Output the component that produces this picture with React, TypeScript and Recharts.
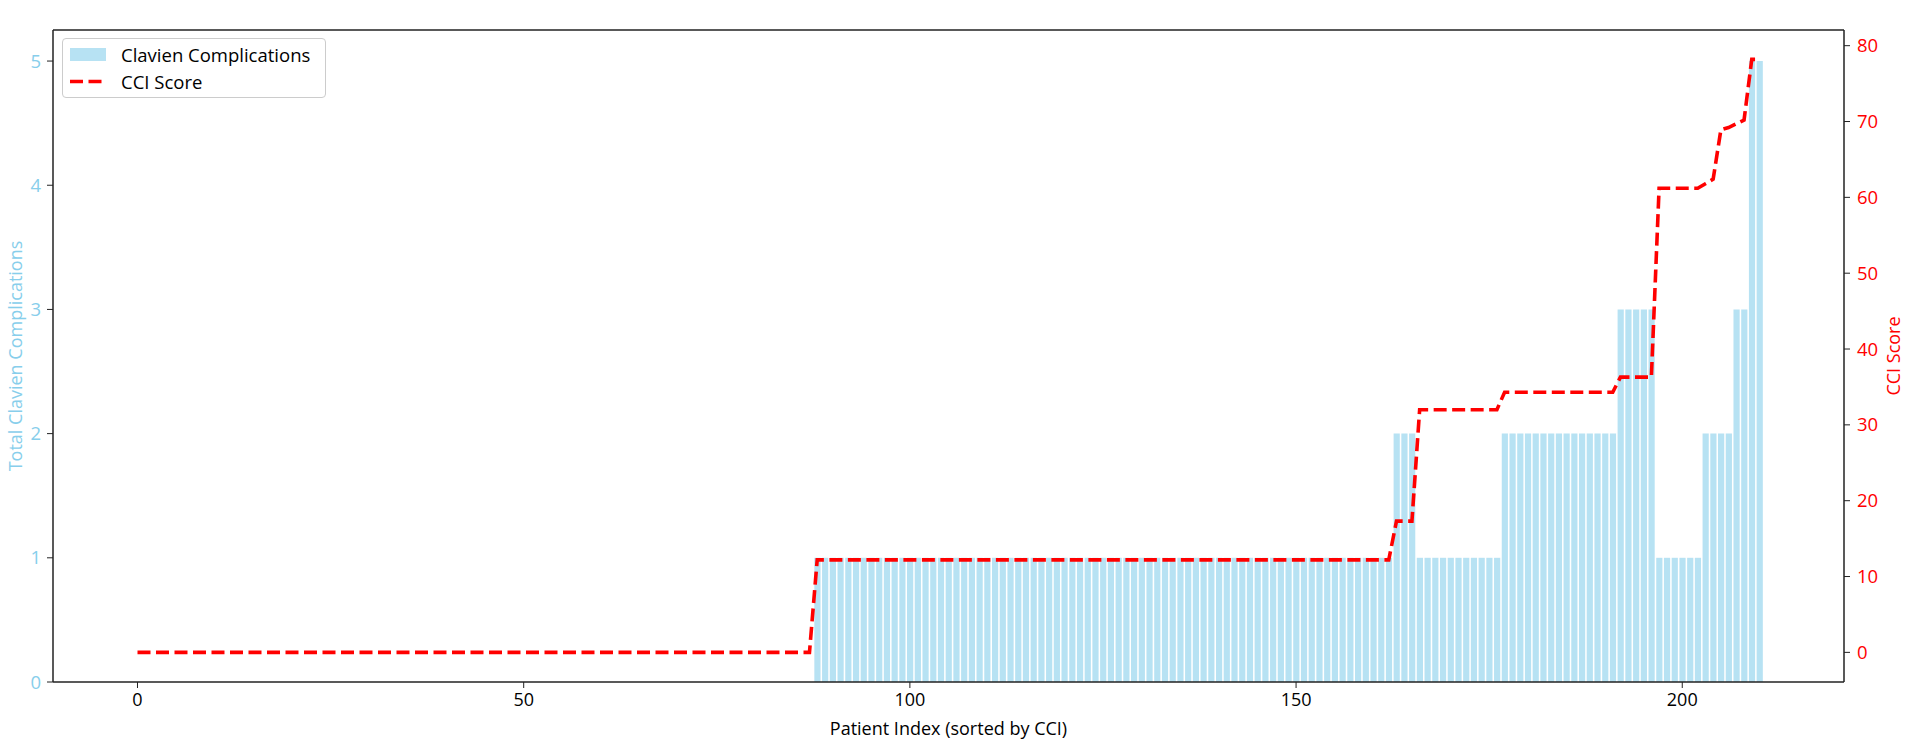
import React from "react";
import { ComposedChart, Bar, Line, XAxis, YAxis, Legend, ReferenceLine } from "recharts";

// total Clavien complications per patient, sorted by CCI (index 0..210)
const clavien = [
  // 0-87
  0, 0, 0, 0, 0, 0, 0, 0, 0, 0, 0, 0, 0, 0, 0, 0, 0, 0, 0, 0,
  0, 0, 0, 0, 0, 0, 0, 0, 0, 0, 0, 0, 0, 0, 0, 0, 0, 0, 0, 0,
  0, 0, 0, 0, 0, 0, 0, 0, 0, 0, 0, 0, 0, 0, 0, 0, 0, 0, 0, 0,
  0, 0, 0, 0, 0, 0, 0, 0, 0, 0, 0, 0, 0, 0, 0, 0, 0, 0, 0, 0,
  0, 0, 0, 0, 0, 0, 0, 0,
  // 88-162
  1, 1, 1, 1, 1, 1, 1, 1, 1, 1, 1, 1, 1, 1, 1, 1, 1, 1, 1, 1,
  1, 1, 1, 1, 1, 1, 1, 1, 1, 1, 1, 1, 1, 1, 1, 1, 1, 1, 1, 1,
  1, 1, 1, 1, 1, 1, 1, 1, 1, 1, 1, 1, 1, 1, 1, 1, 1, 1, 1, 1,
  1, 1, 1, 1, 1, 1, 1, 1, 1, 1, 1, 1, 1, 1, 1,
  // 163-165
  2, 2, 2,
  // 166-176
  1, 1, 1, 1, 1, 1, 1, 1, 1, 1, 1,
  // 177-191
  2, 2, 2, 2, 2, 2, 2, 2, 2, 2, 2, 2, 2, 2, 2,
  // 192-196
  3, 3, 3, 3, 3,
  // 197-202
  1, 1, 1, 1, 1, 1,
  // 203-206
  2, 2, 2, 2,
  // 207-208
  3, 3,
  // 209-210
  5, 5,
];

// CCI score per patient
const cci = [
  // 0-87
  0, 0, 0, 0, 0, 0, 0, 0, 0, 0, 0, 0, 0, 0, 0, 0, 0, 0, 0, 0,
  0, 0, 0, 0, 0, 0, 0, 0, 0, 0, 0, 0, 0, 0, 0, 0, 0, 0, 0, 0,
  0, 0, 0, 0, 0, 0, 0, 0, 0, 0, 0, 0, 0, 0, 0, 0, 0, 0, 0, 0,
  0, 0, 0, 0, 0, 0, 0, 0, 0, 0, 0, 0, 0, 0, 0, 0, 0, 0, 0, 0,
  0, 0, 0, 0, 0, 0, 0, 0,
  // 88-162
  12.2, 12.2, 12.2, 12.2, 12.2, 12.2, 12.2, 12.2, 12.2, 12.2,
  12.2, 12.2, 12.2, 12.2, 12.2, 12.2, 12.2, 12.2, 12.2, 12.2,
  12.2, 12.2, 12.2, 12.2, 12.2, 12.2, 12.2, 12.2, 12.2, 12.2,
  12.2, 12.2, 12.2, 12.2, 12.2, 12.2, 12.2, 12.2, 12.2, 12.2,
  12.2, 12.2, 12.2, 12.2, 12.2, 12.2, 12.2, 12.2, 12.2, 12.2,
  12.2, 12.2, 12.2, 12.2, 12.2, 12.2, 12.2, 12.2, 12.2, 12.2,
  12.2, 12.2, 12.2, 12.2, 12.2, 12.2, 12.2, 12.2, 12.2, 12.2,
  12.2, 12.2, 12.2, 12.2, 12.2,
  // 163-165
  17.3, 17.3, 17.3,
  // 166-176
  32.0, 32.0, 32.0, 32.0, 32.0, 32.0, 32.0, 32.0, 32.0, 32.0, 32.0,
  // 177-191
  34.3, 34.3, 34.3, 34.3, 34.3, 34.3, 34.3, 34.3, 34.3, 34.3,
  34.3, 34.3, 34.3, 34.3, 34.3,
  // 192-196
  36.3, 36.3, 36.3, 36.3, 36.3,
  // 197-202
  61.2, 61.2, 61.2, 61.2, 61.2, 61.2,
  // 203-210
  61.8, 62.4, 68.9, 69.2, 69.7, 70.2, 78.2, 78.2,
];

const xTicks = [0, 50, 100, 150, 200];
const leftTicks = [0, 1, 2, 3, 4, 5];
const rightTicks = [0, 10, 20, 30, 40, 50, 60, 70, 80];

const data = clavien.map((c, i) => ({ idx: i, clavien: c, cci: cci[i] }));

const SKY = "#87CEEB";
const FONT = '"Open Sans", sans-serif';
const spine = { stroke: "#222", strokeWidth: 1.5 };

const renderLegend = () => (
  <div
    style={{
      width: 264,
      height: 60,
      boxSizing: "border-box",
      border: "1px solid #cccccc",
      borderRadius: 4,
      background: "rgba(255,255,255,0.8)",
      position: "relative",
      fontFamily: FONT,
      fontSize: 18.5,
      color: "#000",
    }}
  >
    <div style={{ position: "absolute", left: 7, top: 9, width: 36, height: 13, background: SKY, opacity: 0.6 }} />
    <div style={{ position: "absolute", left: 58, top: 15, transform: "translateY(-50%)", whiteSpace: "nowrap" }}>
      Clavien Complications
    </div>
    <svg style={{ position: "absolute", left: 7, top: 40 }} width={36} height={5}>
      <line x1={0} y1={2.5} x2={36} y2={2.5} stroke="red" strokeWidth={3.6} strokeDasharray="13 5.5" />
    </svg>
    <div style={{ position: "absolute", left: 58, top: 42, transform: "translateY(-50%)", whiteSpace: "nowrap" }}>
      CCI Score
    </div>
  </div>
);

export default function App() {
  return (
    <div style={{ position: "absolute", left: 0, top: 0, width: 1905, height: 741, background: "#fff", fontFamily: FONT }}>
      <ComposedChart width={1905} height={741} data={data} margin={{ top: 30, right: 0, bottom: 0, left: 0 }}>
        <XAxis
          xAxisId="main"
          dataKey="idx"
          type="number"
          domain={[-10.94, 220.94]}
          ticks={xTicks}
          allowDataOverflow
          height={59}
          tickSize={6}
          tickMargin={5}
          axisLine={spine}
          tickLine={{ stroke: "#222" }}
          tick={{ fill: "#000", fontSize: 18, fontFamily: FONT }}
          label={{
            content: () => (
              <text x={948.5} y={728} textAnchor="middle" dominantBaseline="central" fontSize={18} fontFamily={FONT} fill="#000">
                Patient Index (sorted by CCI)
              </text>
            ),
          }}
        />
        <XAxis
          xAxisId="top"
          orientation="top"
          type="number"
          domain={[-10.94, 220.94]}
          height={0}
          tick={false}
          tickLine={false}
          axisLine={false}
          label={{
            content: () => (
              <text x={948.5} y={13} textAnchor="middle" dominantBaseline="central" fontSize={18} fontFamily={FONT} fill="#000">
                URS: Comparison of Clavien Complications and CCI Scores
              </text>
            ),
          }}
        />
        <YAxis
          yAxisId="left"
          width={53}
          domain={[0, 5.25]}
          ticks={leftTicks}
          allowDataOverflow
          tickSize={6}
          tickMargin={6}
          axisLine={spine}
          tickLine={{ stroke: "#222" }}
          tick={{ fill: SKY, fontSize: 18.5, fontFamily: FONT }}
          label={{
            content: () => (
              <text x={15} y={356} transform="rotate(-90 15 356)" textAnchor="middle" dominantBaseline="central" fontSize={18} fontFamily={FONT} fill={SKY}>
                Total Clavien Complications
              </text>
            ),
          }}
        />
        <YAxis
          yAxisId="right"
          orientation="right"
          width={61}
          domain={[-3.908, 82.068]}
          ticks={rightTicks}
          allowDataOverflow
          tickSize={6}
          tickMargin={7}
          axisLine={spine}
          tickLine={{ stroke: "#222" }}
          tick={{ fill: "red", fontSize: 18.5, fontFamily: FONT }}
          label={{
            content: () => (
              <text x={1893} y={356} transform="rotate(-90 1893 356)" textAnchor="middle" dominantBaseline="central" fontSize={18} fontFamily={FONT} fill="red">
                CCI Score
              </text>
            ),
          }}
        />
        <ReferenceLine xAxisId="main" yAxisId="left" y={5.25} stroke="#222" strokeWidth={1.5} ifOverflow="visible" />
        <Legend
          layout="horizontal"
          align="center"
          verticalAlign="middle"
          content={renderLegend}
          wrapperStyle={{ left: 62, top: 38, width: 264, height: 60 }}
        />
        <Bar
          xAxisId="main"
          yAxisId="left"
          dataKey="clavien"
          name="Clavien Complications"
          fill={SKY}
          fillOpacity={0.6}
          barSize={6.2}
          isAnimationActive={false}
        />
        <Line
          xAxisId="main"
          yAxisId="right"
          dataKey="cci"
          name="CCI Score"
          type="linear"
          stroke="red"
          strokeWidth={3.6}
          strokeDasharray="13 5.5"
          dot={false}
          activeDot={false}
          isAnimationActive={false}
        />
      </ComposedChart>
    </div>
  );
}
